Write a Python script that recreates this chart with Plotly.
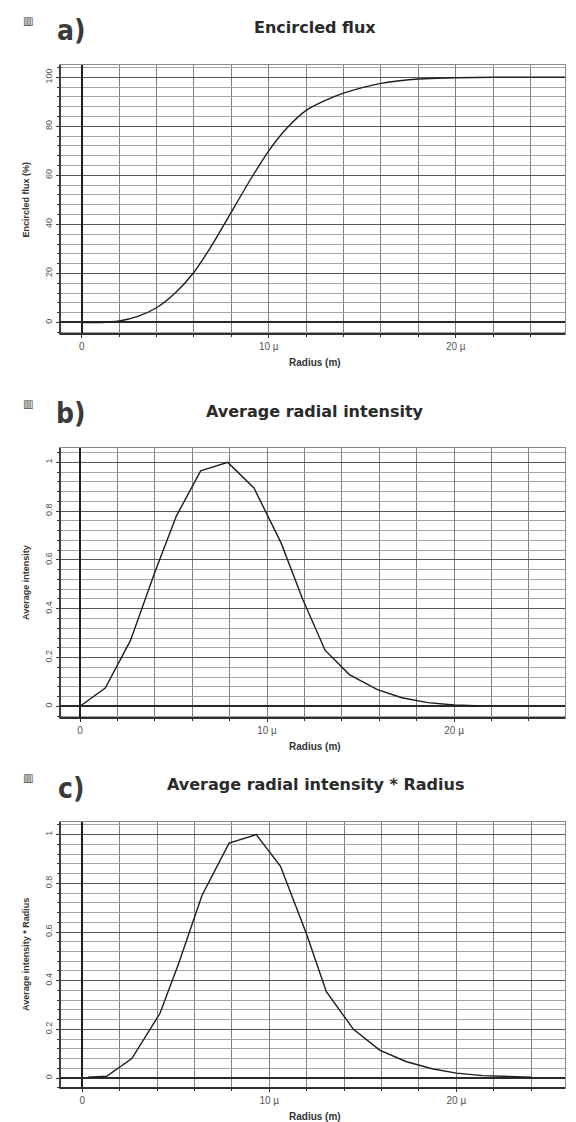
import plotly.graph_objects as go

# ---------------- data ----------------
flux_r = [0, 1, 2, 3, 4, 5, 6, 7, 8, 9, 10, 11, 12, 13, 14, 15, 16, 17, 18, 19, 20, 22, 24, 25.9]
flux_v = [0, 0, 0.6, 2.5, 6, 12, 20.5, 32, 45, 58, 70, 79.5, 86.5, 90.5, 93.5, 95.8, 97.5, 98.6, 99.3, 99.6, 99.8, 100, 100, 100]

inten_r = [0, 1.35, 2.7, 4.0, 5.15, 6.45, 7.9, 9.3, 10.75, 11.9, 13.1, 14.4, 15.9, 17.2, 18.6, 20.0, 21.5]
inten_v = [0, 0.075, 0.27, 0.55, 0.78, 0.965, 1.0, 0.895, 0.67, 0.44, 0.23, 0.13, 0.068, 0.035, 0.015, 0.005, 0.001]

ir_r = [0.3, 1.3, 2.65, 4.15, 5.15, 6.4, 7.85, 9.3, 10.6, 12.0, 13.05, 14.5, 15.9, 17.3, 18.7, 20.0, 21.4, 22.8, 24.0]
ir_v = [0.003, 0.007, 0.08, 0.265, 0.47, 0.75, 0.965, 1.0, 0.87, 0.59, 0.355, 0.2, 0.115, 0.068, 0.038, 0.02, 0.01, 0.006, 0.003]

x_tickvals = [0, 10, 20]
x_ticktext = ["0", "10 µ", "20 µ"]
flux_ticks = [0, 20, 40, 60, 80, 100]
flux_ticktext = ["0", "20", "40", "60", "80", "100"]
int_ticks = [0, 0.2, 0.4, 0.6, 0.8, 1]
int_ticktext = ["0", "0.2", "0.4", "0.6", "0.8", "1"]

panel_letters = ["a)", "b)", "c)"]
panel_titles = ["Encircled flux", "Average radial intensity", "Average radial intensity * Radius"]
y_titles = ["Encircled flux (%)", "Average intensity", "Average intensity * Radius"]
x_title = "Radius (m)"

# ---------------- layout geometry (pixels) ----------------
W, H = 576, 1122
PX0, PX1 = 60, 565
panels = [
    dict(top=65, bot=334, xl=-1.16, yr=[-4.7, 105.0], mdt=4, tv=flux_ticks, tt=flux_ticktext, shape="spline"),
    dict(top=448, bot=718, xl=-1.07, yr=[-0.048, 1.059], mdt=0.04, tv=int_ticks, tt=int_ticktext, shape="linear"),
    dict(top=822, bot=1088, xl=-1.19, yr=[-0.041, 1.052], mdt=0.04, tv=int_ticks, tt=int_ticktext, shape="linear"),
]
series = [(flux_r, flux_v), (inten_r, inten_v), (ir_r, ir_v)]

fig = go.Figure()
annotations = []
shapes = []

def fx(px):
    return px / W

def fy(py):
    return 1 - py / H

for i, (p, (xs, ys)) in enumerate(zip(panels, series)):
    n = "" if i == 0 else str(i + 1)
    fig.add_trace(go.Scatter(x=xs, y=ys, mode="lines",
                             line=dict(color="#1e1e1e", width=1.4, shape=p["shape"], smoothing=0.6),
                             xaxis="x" + n, yaxis="y" + n, showlegend=False,
                             hoverinfo="skip"))
    xa = dict(
        domain=[fx(PX0), fx(PX1)], range=[p["xl"], p["xl"] + 27.0],
        anchor="y" + n, tickmode="array", tickvals=x_tickvals, ticktext=x_ticktext,
        showgrid=True, gridcolor="#7e7e7e", gridwidth=1.1,
        zeroline=True, zerolinecolor="#1e1e1e", zerolinewidth=2.4,
        showline=True, linecolor="#8a8a8a", linewidth=1.2, mirror=True,
        ticks="outside", ticklen=3, tickcolor="#333",
        tickfont=dict(family="Liberation Sans, Arial", size=10, color="#555"),
        minor=dict(dtick=2, tick0=0, showgrid=True, gridcolor="#7e7e7e", gridwidth=1.1,
                   ticks="outside", ticklen=2, tickcolor="#333"),
        fixedrange=True,
    )
    ya = dict(
        domain=[fy(p["bot"]), fy(p["top"])], range=p["yr"],
        anchor="x" + n, tickmode="array", tickvals=p["tv"], ticktext=p["tt"],
        showgrid=True, gridcolor="#555555", gridwidth=1.3,
        zeroline=True, zerolinecolor="#2a2a2a", zerolinewidth=2,
        showline=True, linecolor="#8a8a8a", linewidth=1.2, mirror=True,
        ticks="outside", ticklen=3, tickcolor="#333", tickangle=-90,
        tickfont=dict(family="Liberation Sans, Arial", size=9, color="#555"),
        minor=dict(dtick=p["mdt"], tick0=0, showgrid=True, gridcolor="#a4a4a4", gridwidth=1.4,
                   ticks="outside", ticklen=2, tickcolor="#333"),
        fixedrange=True,
    )
    fig.update_layout(**{"xaxis" + n: xa, "yaxis" + n: ya})

    # dark left and bottom frame lines
    shapes.append(dict(type="line", xref="x" + n + " domain", yref="y" + n + " domain",
                       x0=0, x1=0, y0=0, y1=1, line=dict(color="#2e2e2e", width=1.8)))
    shapes.append(dict(type="line", xref="x" + n + " domain", yref="y" + n + " domain",
                       x0=0, x1=1, y0=0, y1=0, line=dict(color="#2e2e2e", width=1.8)))

    top, bot = p["top"], p["bot"]
    annotations.append(dict(text="<b>" + panel_letters[i] + "</b>", x=fx(71), y=fy(top - 34),
                            xref="paper", yref="paper", xanchor="center", yanchor="middle",
                            showarrow=False,
                            font=dict(family="DejaVu Sans Condensed, Liberation Sans Narrow", size=28, color="#3a3a3a")))
    annotations.append(dict(text="<b>▤</b>", x=fx(27), y=fy(top - 43), xref="paper", yref="paper",
                            xanchor="center", yanchor="middle", showarrow=False, textangle=-90,
                            font=dict(family="DejaVu Sans", size=11, color="#333")))
    annotations.append(dict(text="<b>" + panel_titles[i] + "</b>", x=fx(315), y=fy(top - 37),
                            xref="paper", yref="paper", xanchor="center", yanchor="middle",
                            showarrow=False,
                            font=dict(family="DejaVu Sans", size=16, color="#2a2a2a")))
    annotations.append(dict(text="<b>" + y_titles[i] + "</b>", x=fx(26), y=fy((top + bot) / 2),
                            xref="paper", yref="paper", xanchor="center", yanchor="middle",
                            showarrow=False, textangle=-90,
                            font=dict(family="Liberation Sans, Arial", size=9, color="#333")))
    annotations.append(dict(text="<b>" + x_title + "</b>", x=fx(315), y=fy(bot + 28),
                            xref="paper", yref="paper", xanchor="center", yanchor="middle",
                            showarrow=False,
                            font=dict(family="Liberation Sans, Arial", size=10, color="#333")))

fig.update_layout(width=W, height=H, margin=dict(l=0, r=0, t=0, b=0),
                  paper_bgcolor="white", plot_bgcolor="white",
                  annotations=annotations, shapes=shapes, showlegend=False)

fig.write_html("out.html")
